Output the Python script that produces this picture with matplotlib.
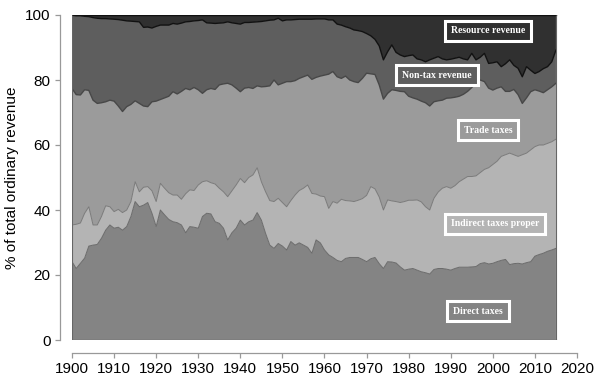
import numpy as np
import matplotlib.pyplot as plt

# upper edge of each band (cumulative %), 1900-2015
years = np.arange(1900, 2016)

direct_top = [
    24.1, 22.0, 23.6, 25.2, 28.9, 29.2, 29.4, 31.3, 33.8, 35.4,
    34.4, 34.7, 33.8, 34.9, 38.0, 42.6, 41.0, 41.5, 42.3, 39.0,
    34.9, 40.0, 38.5, 37.1, 36.4, 36.1, 35.4, 33.0, 34.9, 34.7,
    34.4, 38.0, 39.0, 38.8, 36.4, 35.9, 34.4, 30.8, 33.0, 34.4,
    36.9, 35.4, 36.4, 36.9, 39.2, 36.9, 32.8, 29.2, 28.2, 29.7,
    28.9, 27.7, 30.3, 29.2, 29.9, 29.2, 28.5, 26.7, 30.8, 29.9,
    27.7, 26.2, 25.4, 24.5, 24.1, 25.1, 25.4, 25.4, 25.4, 24.8,
    24.1, 25.0, 25.4, 23.5, 22.0, 24.1, 24.0, 23.7, 22.5, 21.5,
    21.8, 22.0, 21.5, 21.0, 20.7, 20.3, 21.7, 22.0, 22.0, 21.8,
    21.5, 22.0, 22.4, 22.4, 22.4, 22.5, 22.6, 23.5, 23.8, 23.4,
    23.6, 24.1, 24.5, 24.8, 23.2, 23.5, 23.6, 23.4, 23.8, 24.1,
    25.8, 26.3, 26.7, 27.3, 27.7, 28.2]

indirect_top = [
    35.4, 35.6, 36.0, 39.0, 41.0, 35.4, 35.4, 38.0, 41.3, 41.0,
    39.5, 40.2, 39.2, 40.0, 42.6, 48.7, 45.6, 47.0, 47.2, 45.9,
    42.6, 48.2, 46.7, 45.3, 44.6, 44.6, 43.3, 45.0, 46.2, 46.0,
    47.7, 48.7, 49.0, 48.4, 48.0, 46.7, 45.6, 44.1, 45.9, 47.7,
    49.7, 48.4, 50.0, 50.8, 53.0, 48.7, 45.6, 42.9, 42.6, 43.6,
    42.3, 41.0, 42.9, 44.6, 46.0, 46.7, 47.7, 45.1, 44.9, 44.3,
    44.1, 40.5, 42.6, 42.1, 43.3, 42.9, 42.8, 42.6, 43.0, 43.5,
    44.5, 47.2, 46.5, 44.0, 40.0, 43.1, 42.8, 42.6, 42.3, 42.6,
    43.0, 43.0, 43.1, 42.5, 41.0, 40.0, 43.6, 45.5, 46.7, 47.2,
    46.7, 47.5, 48.7, 49.5, 50.3, 50.3, 50.5, 51.5, 52.5, 53.0,
    54.0, 55.0, 56.5, 57.0, 57.5, 57.0, 56.5, 57.0, 57.5, 58.5,
    59.5, 60.0, 60.0, 60.5, 61.0, 61.8]

trade_top = [
    77.4, 75.5, 75.4, 77.0, 76.8, 73.8, 72.8, 73.0, 73.3, 73.8,
    73.5, 72.0, 70.3, 71.8, 72.5, 73.6, 72.8, 72.0, 71.8, 73.3,
    73.5, 74.0, 74.5, 75.0, 76.4, 75.7, 76.5, 77.4, 77.0, 77.7,
    77.0, 75.9, 77.0, 77.4, 77.1, 78.5, 78.8, 79.0, 78.5, 77.5,
    76.4, 77.5, 77.7, 77.4, 78.2, 77.9, 78.0, 78.2, 80.0, 78.5,
    79.0, 79.5, 79.5, 79.8, 80.5, 81.0, 81.5, 80.2, 80.8, 81.2,
    81.5, 81.8, 82.6, 81.0, 80.5, 81.2, 80.0, 79.5, 79.2, 80.5,
    82.1, 81.9, 81.7, 78.5, 74.1, 75.9, 77.0, 76.8, 76.5, 76.4,
    75.0, 74.5, 74.1, 73.5, 73.0, 72.0, 73.3, 73.6, 73.8, 74.4,
    74.5, 74.7, 75.0, 75.6, 76.5, 77.7, 79.0, 80.0, 79.5, 77.5,
    76.9, 77.5, 77.9, 76.5, 76.5, 77.1, 75.5, 72.8, 74.5, 76.4,
    77.0, 76.6, 76.1, 77.0, 77.9, 79.0]

nontax_top = [
    100.0, 99.8, 99.8, 99.6, 99.5, 99.2, 99.0, 98.9, 98.9, 98.8,
    98.7, 98.6, 98.4, 98.2, 98.1, 98.0, 97.9, 96.2, 96.3, 96.0,
    96.5, 96.9, 96.9, 96.9, 97.4, 97.2, 97.5, 97.9, 98.0, 98.2,
    98.3, 98.5, 97.6, 97.5, 97.4, 97.5, 97.6, 97.9, 97.6, 97.4,
    97.2, 97.7, 97.7, 97.8, 97.9, 98.0, 98.2, 98.4, 98.5, 99.0,
    98.2, 98.5, 98.5, 98.6, 98.7, 98.7, 98.7, 98.7, 98.8, 98.8,
    98.8, 98.5, 98.5, 97.2, 96.9, 96.4, 96.0, 95.4, 95.2, 94.9,
    94.3, 93.6, 92.5, 90.5, 86.2, 88.7, 90.8, 88.5, 87.7, 87.2,
    87.5, 87.7, 86.5, 86.2, 85.6, 86.2, 86.7, 87.2, 86.5, 86.2,
    86.4, 86.7, 87.0, 86.5, 86.2, 88.2, 86.2, 87.0, 88.2, 85.1,
    85.3, 85.6, 84.1, 85.0, 86.2, 84.5, 83.6, 81.0, 84.1, 83.0,
    82.0, 82.6, 83.5, 84.1, 85.6, 89.2]

labels = ["Direct taxes", "Indirect taxes proper", "Trade taxes",
          "Non-tax revenue", "Resource revenue"]
colors = ["#848484", "#b4b4b4", "#9b9b9b", "#5e5e5e", "#303030"]
edge_colors = ["#6a6a6a", "#7a7a7a", "#474747", "#111111", "#111111"]

tops = np.array([direct_top, indirect_top, trade_top, nontax_top,
                 np.full(len(years), 100.0)])
shares = np.diff(np.vstack([np.zeros(len(years)), tops]), axis=0)

plt.rcParams['font.family'] = ['Liberation Sans', 'DejaVu Sans']

fig = plt.figure(figsize=(5.99, 3.77), dpi=100)
ax = fig.add_axes([72 / 599, 37 / 377, 505 / 599, 325 / 377])

ax.stackplot(years, shares, colors=colors, linewidth=0)
for i in range(len(labels)):
    ax.plot(years, tops[i], color=edge_colors[i],
            lw=1.0 if i >= 2 else 0.7)
ax.plot(years, np.zeros(len(years)), color="#666666", lw=1.0)
ax.vlines([years[0], years[-1]], 0, 100, color="#666666", lw=0.8)

ax.set_xlim(1900, 2020)
ax.set_ylim(0, 100)
for s in ["top", "right"]:
    ax.spines[s].set_visible(False)
ax.spines["left"].set_position(("outward", 9))
ax.spines["bottom"].set_position(("outward", 9))
for s in ["left", "bottom"]:
    ax.spines[s].set_color("#999999")
    ax.spines[s].set_linewidth(0.9)
ax.set_xticks(np.arange(1900, 2021, 10))
ax.set_yticks(np.arange(0, 101, 20))
ax.tick_params(colors="#999999", labelcolor="black", labelsize=11,
               length=3.5, width=0.9, pad=3)
ax.set_ylabel("% of total ordinary revenue", fontsize=11, labelpad=4)

# band labels
label_pos = {
    "Resource revenue": (1998.9, 95.1),
    "Non-tax revenue": (1986.7, 81.5),
    "Trade taxes": (1998.9, 64.6),
    "Indirect taxes proper": (2000.5, 35.7),
    "Direct taxes": (1996.5, 8.9),
}
for lab, col in zip(labels, colors):
    x, y = label_pos[lab]
    ax.text(x, y, lab, ha="center", va="center", color="white",
            fontsize=7, fontweight="bold", family="Liberation Serif",
            bbox=dict(boxstyle="square,pad=0.6", fc=col, ec="white", lw=2.2))

fig.savefig("out.png", dpi=100)
